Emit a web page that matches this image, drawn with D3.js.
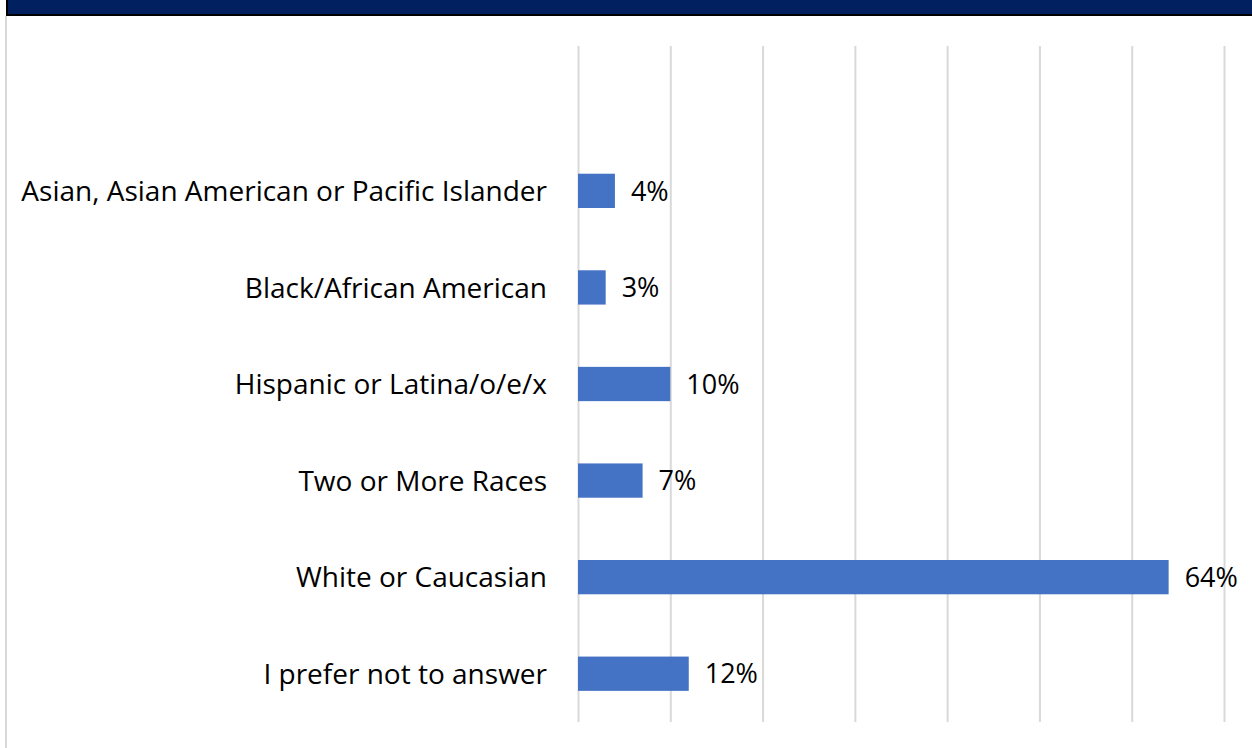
<!DOCTYPE html>
<html>
<head>
<meta charset="utf-8">
<script src="https://cdn.jsdelivr.net/npm/d3@7"></script>
<style>
  html,body{margin:0;padding:0;background:#fff;}
  svg{display:block;}
  text{font-family:"Open Sans","Noto Sans",sans-serif;fill:#000;}
</style>
</head>
<body>
<div id="chart"></div>
<script>
// categories top to bottom; first row of the plot is left blank as in the source
var categories=["Asian, Asian American or Pacific Islander","Black/African American","Hispanic or Latina/o/e/x","Two or More Races","White or Caucasian","I prefer not to answer"];
var values=[4,3,10,7,64,12];
var xTicks=[0,10,20,30,40,50,60,70];

var W=1252,H=748;
var m={top:46,left:578,right:28,bottom:26};
var width=W-m.left-m.right, height=H-m.top-m.bottom;

var svg=d3.select("#chart").append("svg").attr("width",W).attr("height",H);

// frame + header band
svg.append("line").attr("x1",6).attr("x2",6).attr("y1",16).attr("y2",H).attr("stroke","#d9d9d9").attr("stroke-width",2);
svg.append("rect").attr("x",7).attr("y",-2).attr("width",W).attr("height",17)
    .attr("fill","#002060").attr("stroke","#000").attr("stroke-width",2);

var g=svg.append("g").attr("transform","translate("+m.left+","+m.top+")");

var x=d3.scaleLinear().domain([0,70]).range([0,646]);
var y=d3.scaleBand().domain([""].concat(categories)).range([0,height]).paddingInner(0.645).paddingOuter(0.3225);

// vertical gridlines
g.append("g").call(d3.axisBottom(x).tickValues(xTicks).tickSize(height).tickFormat(""))
    .call(function(s){s.select(".domain").remove();s.selectAll("line").attr("stroke","#d9d9d9").attr("stroke-width",2);});

var rows=categories.map(function(c,i){return {cat:c,val:values[i]};});

g.selectAll("rect.bar").data(rows).enter().append("rect").attr("class","bar")
    .attr("x",x(0)).attr("y",function(d){return y(d.cat);})
    .attr("width",function(d){return x(d.val)-x(0);}).attr("height",y.bandwidth())
    .attr("fill","#4472c4");

g.selectAll("text.val").data(rows).enter().append("text").attr("class","val")
    .attr("x",function(d){return x(d.val)+16;}).attr("y",function(d){return y(d.cat)+y.bandwidth()/2;})
    .attr("dy","0.36em").style("font-size","27px").text(function(d){return d.val+"%";});

g.selectAll("text.cat").data(rows).enter().append("text").attr("class","cat")
    .attr("x",-31).attr("y",function(d){return y(d.cat)+y.bandwidth()/2;})
    .attr("dy","0.36em").attr("text-anchor","end").style("font-size","28px").text(function(d){return d.cat;});
</script>
</body>
</html>
